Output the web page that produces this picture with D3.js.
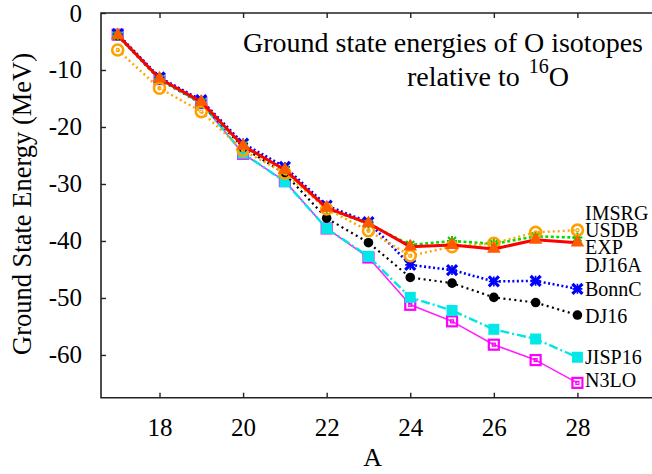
<!DOCTYPE html>
<html>
<head>
<meta charset="utf-8">
<script src="https://cdn.jsdelivr.net/npm/d3@7/dist/d3.min.js"></script>
<style>
  html, body { margin: 0; padding: 0; background: #fff; }
  svg { display: block; }
  text { font-family: "Liberation Serif", "Times New Roman", serif; fill: #000; }
</style>
</head>
<body>
<svg id="chart" width="652" height="474"></svg>
<script>
// Mass numbers of the oxygen isotopes
const massNumbers = [17, 18, 19, 20, 21, 22, 23, 24, 25, 26, 27, 28];

// Ground-state energies relative to 16O (MeV), one array per calculation
const n3lo   = [-3.8, -11.6, -15.8, -24.7, -29.5, -37.8, -42.9, -51.2, -54.1, -58.2, -60.9, -64.9];
const jisp16 = [-3.8, -11.6, -15.8, -24.6, -29.6, -37.8, -42.7, -49.9, -52.2, -55.5, -57.2, -60.4];
const dj16   = [-4.0, -11.7, -15.9, -23.6, -28.2, -36.0, -40.3, -46.4, -47.4, -49.9, -50.8, -53.0];
const bonnC  = [-3.7, -11.3, -15.3, -22.9, -27.0, -33.8, -36.7, -44.2, -45.1, -47.1, -47.0, -48.4];
const dj16a  = [-3.9, -11.5, -15.6, -23.3, -27.5, -34.2, -36.9, -41.0, -40.7, -41.3, -39.8, -40.3];
const imsrg  = [-4.0, -11.6, -15.8, -23.3, -27.6, -34.3, -37.0, -40.7, -40.0, -40.5, -39.2, -39.4];
const usdb   = [-6.5, -13.2, -17.3, -24.1, -28.1, -34.4, -38.2, -42.6, -41.0, -40.4, -38.5, -38.1];
const expt   = [-3.9, -11.5, -15.6, -23.3, -27.5, -34.2, -36.9, -41.0, -40.7, -41.4, -39.8, -40.3];

// Axis tick values
const xTicks = [18, 20, 22, 24, 26, 28];
const yTicks = [0, -10, -20, -30, -40, -50, -60];

// Series labels written at the right-hand end of the curves
const seriesLabels = ["IMSRG", "USDB", "EXP", "DJ16A", "BonnC", "DJ16", "JISP16", "N3LO"];
const labelBaselines = [220, 237, 254, 272, 296, 323, 364, 387];

const svg = d3.select("#chart");

const x = d3.scaleLinear().domain([16.6, 30]).range([101, 661]);
const y = d3.scaleLinear().domain([-67.5, 0]).range([397.7, 13]);

// Frame: left, top and bottom edges (the right edge lies outside the view)
const frame = svg.append("g").attr("stroke", "#222").attr("stroke-width", 1.6).attr("fill", "none");
frame.append("path").attr("d", `M${x(30)},${y(0)}H${x(16.6)}V${y(-67.5)}H${x(30)}`);

// Axes with inward ticks
const axisFont = 25;
const leftAxis = svg.append("g").attr("transform", `translate(${x(16.6)},0)`)
  .call(d3.axisLeft(y).tickValues(yTicks).tickSize(-5).tickPadding(19).tickFormat(d3.format("d")));
const bottomAxis = svg.append("g").attr("transform", `translate(0,${y(-67.5)})`)
  .call(d3.axisBottom(x).tickValues(xTicks).tickSize(-5).tickPadding(21).tickFormat(d3.format("d")));
const topAxis = svg.append("g").attr("transform", `translate(0,${y(0)})`)
  .call(d3.axisTop(x).tickValues(xTicks).tickSize(-5).tickFormat(""));
[leftAxis, bottomAxis, topAxis].forEach(g => {
  g.select(".domain").remove();
  g.selectAll(".tick line").attr("stroke", "#222").attr("stroke-width", 1.4);
  g.selectAll(".tick text").attr("font-family", "Liberation Serif").attr("font-size", axisFont).attr("fill", "#000");
});
leftAxis.selectAll(".tick text").text(d => d === 0 ? "0" : "-" + Math.abs(d));

// Axis titles
svg.append("text").attr("x", x(23.1)).attr("y", 466).attr("text-anchor", "middle")
  .attr("font-size", 26).text("A");
svg.append("text").attr("transform", "translate(31,204) rotate(-90)").attr("text-anchor", "middle")
  .attr("font-size", 26.5).text("Ground State Energy (MeV)");

// Title block
svg.append("text").attr("x", 243).attr("y", 52).attr("font-size", 28)
  .text("Ground state energies of O isotopes");
const t2 = svg.append("text").attr("x", 407).attr("y", 86).attr("font-size", 28);
t2.append("tspan").text("relative to ");
t2.append("tspan").attr("font-size", 20).attr("dy", -13).attr("dx", 2).text("16");
t2.append("tspan").attr("dy", 13).text("O");

// Marker shapes
const markers = {
  openSquare: (g, c) => {
    g.append("rect").attr("x", -5).attr("y", -5).attr("width", 10).attr("height", 10)
      .attr("fill", "none").attr("stroke", c).attr("stroke-width", 2.2);
    g.append("rect").attr("x", -1.5).attr("y", -1.5).attr("width", 3).attr("height", 3)
      .attr("fill", "none").attr("stroke", c).attr("stroke-width", 1.2);
  },
  filledSquare: (g, c) => {
    g.append("rect").attr("x", -5.5).attr("y", -5.5).attr("width", 11).attr("height", 11).attr("fill", c);
  },
  dot: (g, c) => {
    g.append("circle").attr("r", 4.8).attr("fill", c);
  },
  cross: (g, c) => {
    g.append("path").attr("d", "M-5,-5L5,5M-5,5L5,-5").attr("stroke", c).attr("stroke-width", 3.2);
    g.append("path").attr("d", "M-5,0H5M0,-5V5").attr("stroke", c).attr("stroke-width", 1.6);
  },
  none: () => {},
  star: (g, c) => {
    g.append("path").attr("d", "M-4,-4L4,4M-4,4L4,-4M-5,0H5M0,-5V5").attr("stroke", c).attr("stroke-width", 2);
  },
  ring: (g, c) => {
    g.append("circle").attr("r", 5.5).attr("fill", "none").attr("stroke", c).attr("stroke-width", 2.6);
    g.append("circle").attr("r", 1.6).attr("fill", "none").attr("stroke", c).attr("stroke-width", 1.2);
  },
  triangle: (g, c) => {
    g.append("path").attr("d", d3.symbol(d3.symbolTriangle, 80)()).attr("fill", c);
  }
};

// Series in drawing order (last on top)
const series = [
  { values: n3lo,   line: "#ff22ff", width: 1.6, dash: null,        marker: "openSquare",   mColor: "#ff00ff" },
  { values: jisp16, line: "#00e5e5", width: 2.4, dash: "9,3,2,3",   marker: "filledSquare", mColor: "#00e8e8" },
  { values: dj16,   line: "#000000", width: 2.2, dash: "2,3.5",     marker: "dot",          mColor: "#000000" },
  { values: bonnC,  line: "#0000ff", width: 2.6, dash: "2,2.5",     marker: "cross",        mColor: "#0000ff" },
  { values: dj16a,  line: "#000000", width: 1.4, dash: "2,3",       marker: "none",         mColor: "#000000" },
  { values: imsrg,  line: "#00dd00", width: 2.6, dash: "3,2.5",     marker: "star",         mColor: "#00cc00" },
  { values: usdb,   line: "#ffa500", width: 2.4, dash: "2,3",       marker: "ring",         mColor: "#ffa000" },
  { values: expt,   line: "#ff0000", width: 3.0, dash: null,        marker: "triangle",     mColor: "#ff5a00" }
];

const line = d3.line().x((d, i) => x(massNumbers[i])).y(d => y(d));

series.forEach(s => {
  const g = svg.append("g");
  g.append("path").datum(s.values).attr("d", line).attr("fill", "none")
    .attr("stroke", s.line).attr("stroke-width", s.width)
    .attr("stroke-dasharray", s.dash).attr("stroke-linejoin", "round");
  g.selectAll(".m").data(s.values).join("g").attr("class", "m")
    .attr("transform", (d, i) => `translate(${x(massNumbers[i])},${y(d)})`)
    .each(function () { markers[s.marker](d3.select(this), s.mColor); });
});

// Series names
svg.append("g").selectAll("text").data(seriesLabels).join("text")
  .attr("x", 585).attr("y", (d, i) => labelBaselines[i])
  .attr("font-size", 20).text(d => d);
</script>
</body>
</html>
